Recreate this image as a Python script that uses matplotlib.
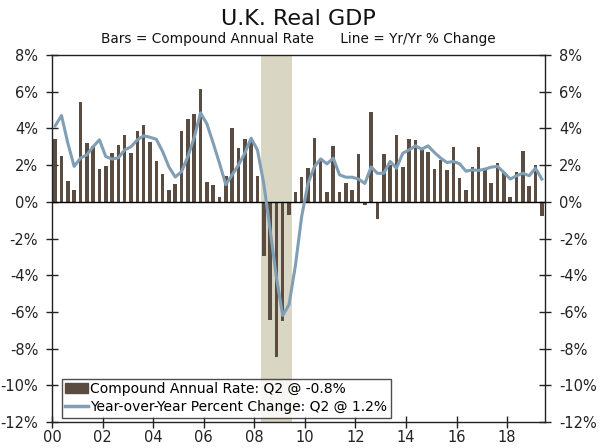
import numpy as np
import matplotlib
matplotlib.use("Agg")
import matplotlib.pyplot as plt
from matplotlib.patches import Patch
from matplotlib.lines import Line2D

start_year = 2000
quarters = 78  # 2000 Q1 .. 2019 Q2

bars = [3.41, 2.47, 1.13, 0.65, 5.43, 3.20, 3.02, 1.78, 1.93, 2.65,
        3.07, 3.65, 2.65, 3.85, 4.16, 3.27, 2.20, 1.54, 0.65, 0.98,
        3.87, 4.50, 4.80, 6.16, 1.07, 0.89, 0.24, 1.38, 4.03, 2.92,
        3.43, 3.34, 1.42, -2.94, -6.43, -8.43, -6.52, -0.74, 0.53, 1.36,
        1.82, 3.47, 2.34, 0.51, 3.02, 0.56, 1.05, 0.65, 2.60, -0.20,
        4.87, -0.93, 2.62, 2.00, 3.65, 1.89, 3.42, 3.38, 2.83, 2.69,
        1.78, 2.29, 1.74, 2.98, 1.29, 0.62, 1.89, 2.98, 1.74, 1.02,
        2.10, 1.65, 0.25, 1.65, 2.78, 0.87, 1.98, -0.80]

yoy = [4.14, 4.70, 3.20, 1.93, 2.38, 2.56, 3.00, 3.38, 2.47, 2.33,
       2.40, 2.83, 3.00, 3.38, 3.60, 3.52, 3.41, 2.74, 1.90, 1.35,
       1.65, 2.47, 3.50, 4.85, 4.25, 3.20, 2.10, 0.93, 1.47, 2.00,
       2.65, 3.47, 2.83, 1.00, -1.50, -4.10, -6.20, -5.60, -3.50, -0.80,
       1.00, 1.90, 2.34, 2.07, 2.38, 1.47, 1.34, 1.34, 1.24, 1.00,
       1.90, 1.55, 1.56, 2.20, 1.83, 2.65, 2.83, 3.05, 2.87, 3.05,
       2.69, 2.38, 2.14, 2.20, 2.07, 1.67, 1.74, 1.71, 1.78, 1.89,
       1.93, 1.60, 1.24, 1.42, 1.56, 1.42, 1.83, 1.24]

recession = (2008.25, 2009.5)
xtick_years = list(range(2000, 2019, 2))
xtick_labels = ["00", "02", "04", "06", "08", "10", "12", "14", "16", "18"]
ytick_vals = list(range(-12, 9, 2))
ytick_labels = [f"{v}%" for v in ytick_vals]

bar_color = "#5b4c41"
line_color = "#809fb5"
shade_color = "#d9d6c4"

x = start_year + (np.arange(quarters) + 0.5) / 4.0

fig = plt.figure(figsize=(6, 4.48), dpi=100)
ax = fig.add_axes([0.0867, 0.058, 0.8216, 0.8192])

ax.axvspan(recession[0], recession[1], color=shade_color, zorder=0, lw=0)
ax.bar(x, bars, width=0.14, color=bar_color, zorder=2)
ax.axhline(0, color="black", lw=1.0, zorder=3)
ax.plot(x, yoy, color=line_color, lw=2.2, zorder=4, solid_joinstyle="round")

ax.set_xlim(2000, 2019.5)
ax.set_ylim(-12, 8)
ax.set_xticks(xtick_years)
ax.set_xticklabels(xtick_labels)
ax.set_yticks(ytick_vals)
ax.set_yticklabels(ytick_labels)
ax.tick_params(axis="both", direction="inout", length=8, width=1, labelsize=10.5,
               colors="#222222")
ax.tick_params(axis="y", right=True, labelright=True, pad=6)
ax.tick_params(axis="x", pad=2)
for s in ax.spines.values():
    s.set_color("#222222")
    s.set_linewidth(1)

handles = [Patch(facecolor=bar_color, edgecolor=bar_color),
           Line2D([0], [0], color=line_color, lw=2.5)]
labels = ["Compound Annual Rate: Q2 @ -0.8%",
          "Year-over-Year Percent Change: Q2 @ 1.2%"]
leg = ax.legend(handles, labels, loc="lower left", bbox_to_anchor=(0.02, 0.012),
                fontsize=10, frameon=True, fancybox=False, edgecolor="#222222",
                borderpad=0.25, labelspacing=0.3, handlelength=1.6,
                handletextpad=0.2, borderaxespad=0)
leg.get_frame().set_linewidth(1)

fig.text(0.4975, 0.958, "U.K. Real GDP", ha="center", va="center", fontsize=16,
         color="#111111")
fig.text(0.4975, 0.913, "Bars = Compound Annual Rate      Line = Yr/Yr % Change",
         ha="center", va="center", fontsize=9.8, color="#111111")

fig.savefig("out.png", dpi=100)
